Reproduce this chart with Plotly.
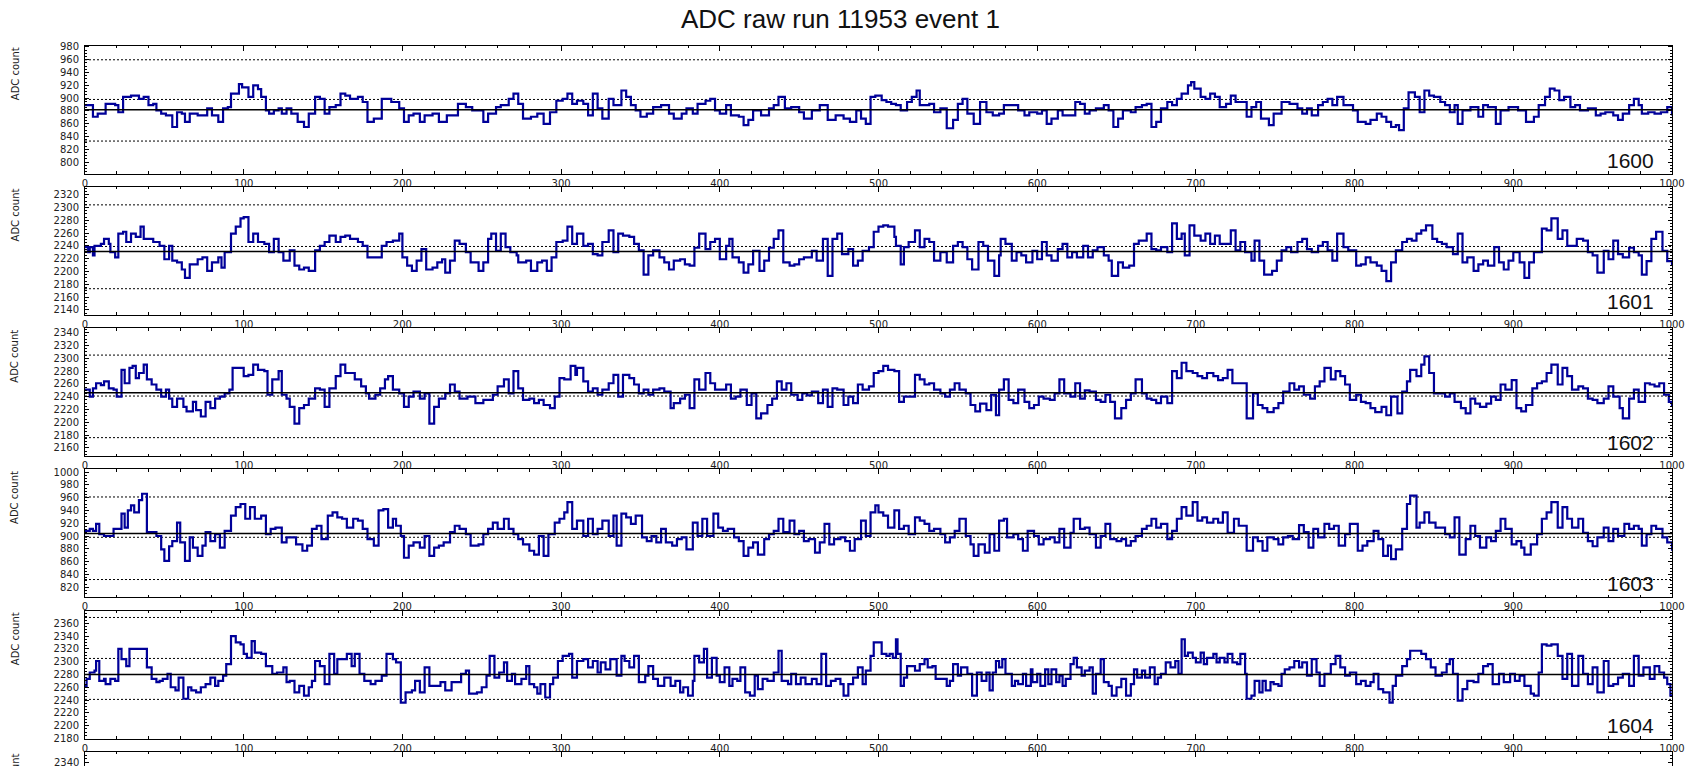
import plotly.graph_objects as go

# ---------------- data (sample index, ADC value) ----------------
channels = ["1600", "1601", "1602", "1603", "1604"]
title_text = "ADC raw run 11953 event 1"
y_title = "ADC count"

ch1600 = [(0,889),(5,871),(8,876),(13,891),(19,889),(21,878),(24,902),(29,904),(34,899),(37,902),(40,889),(43,891),(45,881),(48,876),(51,873),(55,855),(58,878),(61,876),(63,863),(66,876),(71,873),(77,884),(80,873),(84,863),(87,884),(90,886),(92,907),(95,907),(97,922),(99,917),(103,902),(106,920),(109,914),(111,902),(114,881),(116,876),(119,881),(122,884),(124,876),(127,884),(130,876),(134,863),(138,855),(141,876),(145,902),(148,899),(151,876),(154,886),(158,889),(161,907),(164,904),(167,899),(172,902),(175,894),(178,863),(182,868),(187,899),(193,894),(198,884),(201,863),(204,873),(207,876),(211,863),(214,873),(219,876),(223,863),(228,873),(235,891),(240,886),(244,881),(251,863),(254,876),(259,886),(262,889),(267,899),(270,907),(273,891),(276,868),(281,871),(285,876),(289,860),(293,878),(297,896),(301,899),(304,907),(307,891),(310,896),(314,891),(317,873),(320,907),(323,884),(326,868),(330,899),(333,889),(338,912),(341,902),(344,889),(347,881),(350,871),(354,876),(358,886),(363,889),(368,876),(371,868),(376,876),(379,884),(383,876),(386,891),(391,896),(394,899),(397,881),(400,876),(404,889),(407,873),(412,871),(415,858),(418,866),(421,881),(426,873),(431,884),(434,889),(437,902),(441,884),(445,886),(450,878),(453,868),(458,881),(463,889),(468,866),(473,873),(478,868),(482,863),(486,881),(489,868),(492,860),(495,902),(498,904),
          (500,904),(502,897),(505,894),(508,891),(511,889),(514,881),(518,894),(521,902),(524,912),(526,889),(532,891),(535,878),(539,884),(543,853),(547,866),(550,891),(553,899),(556,876),(560,860),(564,894),(568,878),(572,873),(576,876),(579,889),(588,881),(592,873),(595,878),(600,876),(603,881),(606,860),(609,868),(613,881),(616,873),(624,894),(627,891),(630,876),(633,881),(637,884),(642,889),(645,881),(648,855),(651,868),(654,881),(659,878),(662,886),(666,889),(669,891),(672,855),(675,863),(678,884),(682,894),(685,889),(688,899),(691,907),(695,920),(697,925),(699,915),(703,902),(706,899),(709,907),(712,902),(715,886),(719,891),(722,904),(725,894),(732,871),(735,886),(738,894),(741,868),(746,858),(749,876),(754,894),(759,891),(764,884),(767,876),(770,884),(773,873),(777,889),(780,894),(783,899),(786,889),(789,902),(793,889),(799,881),(802,863),(807,860),(810,866),(814,876),(817,871),(820,863),(823,855),(826,858),(828,850),(831,884),(834,909),(838,902),(841,878),(844,912),(847,904),(850,902),(854,894),(857,889),(860,878),(863,889),(865,860),(868,881),(873,886),(878,871),(881,889),(884,886),(889,860),(892,881),(897,886),(903,881),(908,863),(913,871),(916,889),(920,902),(923,915),(926,912),(929,897),(932,902),(936,886),(939,889),(942,881),(947,884),(952,873),(955,876),(958,878),(963,873),(966,866),(969,876),(973,889),(976,899),(979,889),(981,876),(985,878),(989,876),(993,878),(997,886),(1000,873)]

ch1601 = [(0,2238),(2,2230),(3,2238),(5,2225),(6,2240),(10,2243),(12,2251),(15,2243),(16,2230),(19,2222),(21,2259),(24,2262),(26,2246),(29,2259),(32,2254),(35,2270),(37,2251),(43,2246),(47,2240),(50,2219),(53,2240),(55,2217),(58,2214),(61,2203),(63,2190),(66,2211),(71,2219),(74,2222),(77,2201),(80,2214),(84,2222),(86,2206),(88,2230),(92,2259),(95,2270),(98,2283),(100,2285),(103,2246),(106,2259),(109,2246),(113,2243),(116,2230),(119,2251),(122,2230),(125,2217),(129,2233),(132,2209),(135,2203),(138,2206),(141,2201),(145,2233),(148,2240),(151,2246),(154,2256),(158,2246),(161,2254),(164,2256),(167,2251),(172,2246),(175,2240),(178,2222),(187,2240),(190,2246),(194,2248),(198,2259),(200,2222),(203,2209),(206,2201),(209,2217),(212,2235),(215,2203),(219,2206),(222,2214),(225,2219),(227,2198),(230,2217),(233,2248),(236,2243),(240,2230),(243,2214),(248,2201),(251,2214),(254,2251),(256,2259),(259,2232),(262,2259),(265,2238),(268,2230),(272,2225),(273,2214),(278,2217),(281,2201),(285,2214),(288,2217),(291,2201),(294,2222),(297,2246),(301,2248),(304,2270),(307,2243),(310,2259),(314,2240),(317,2243),(320,2227),(323,2225),(326,2246),(330,2264),(333,2230),(336,2259),(339,2256),(343,2254),(346,2243),(349,2233),(352,2195),(355,2225),(358,2233),(362,2222),(365,2214),(368,2203),(371,2217),(375,2219),(378,2211),(381,2209),(384,2237),(387,2259),(391,2235),(394,2246),(397,2251),(400,2219),(404,2240),(406,2251),(408,2222),(412,2214),(415,2198),(418,2211),(421,2232),(425,2201),(428,2217),(431,2237),(434,2251),(437,2264),(440,2214),(444,2209),(447,2211),(450,2219),(453,2222),(458,2232),(461,2217),(465,2251),(468,2193),(471,2251),(474,2259),(477,2227),(481,2235),(484,2209),(487,2217),(490,2232),(494,2238),(497,2262),
          (500,2270),(503,2272),(506,2270),(510,2254),(511,2240),(514,2211),(516,2238),(519,2246),(523,2264),(526,2238),(529,2251),(532,2246),(535,2217),(539,2230),(543,2214),(547,2240),(550,2246),(553,2238),(556,2219),(559,2203),(563,2246),(566,2240),(569,2217),(573,2193),(576,2225),(577,2251),(580,2243),(584,2217),(587,2230),(590,2225),(593,2214),(597,2232),(600,2219),(603,2246),(606,2225),(609,2217),(613,2235),(616,2243),(619,2222),(622,2230),(625,2222),(629,2240),(632,2222),(635,2233),(638,2238),(642,2225),(645,2217),(647,2193),(651,2214),(654,2206),(658,2209),(661,2243),(664,2248),(669,2259),(672,2235),(675,2233),(678,2238),(682,2230),(685,2275),(688,2251),(691,2259),(693,2225),(696,2272),(699,2256),(703,2248),(706,2259),(709,2243),(712,2256),(715,2243),(722,2264),(725,2233),(728,2246),(731,2230),(735,2217),(737,2248),(740,2217),(743,2195),(748,2201),(751,2217),(754,2233),(757,2238),(760,2230),(764,2246),(767,2251),(770,2235),(773,2230),(777,2240),(780,2246),(783,2233),(786,2217),(789,2259),(793,2238),(796,2233),(801,2209),(804,2211),(807,2222),(810,2214),(814,2209),(817,2201),(820,2185),(823,2214),(826,2233),(830,2246),(833,2251),(836,2248),(839,2259),(842,2264),(845,2272),(849,2251),(852,2246),(855,2243),(858,2238),(862,2227),(865,2259),(868,2214),(871,2222),(875,2201),(878,2211),(881,2217),(884,2209),(888,2238),(891,2214),(894,2203),(897,2217),(900,2230),(904,2214),(907,2190),(910,2214),(913,2230),(918,2267),(921,2264),(924,2283),(928,2251),(931,2264),(934,2240),(940,2251),(944,2248),(947,2230),(950,2225),(953,2198),(957,2232),(960,2219),(963,2248),(966,2227),(969,2222),(973,2237),(976,2230),(979,2225),(981,2195),(984,2216),(987,2251),(990,2262),(994,2232),(997,2216),(1000,2209)]

ch1602 = [(0,2251),(3,2240),(5,2253),(7,2261),(10,2258),(12,2264),(15,2253),(18,2251),(20,2240),(23,2282),(25,2261),(28,2285),(30,2288),(32,2269),(34,2277),(37,2290),(39,2267),(42,2259),(45,2251),(48,2240),(51,2251),(53,2237),(55,2224),(58,2237),(62,2224),(64,2217),(68,2232),(70,2219),(73,2209),(76,2232),(79,2222),(82,2237),(85,2240),(88,2245),(91,2251),(93,2285),(97,2285),(100,2272),(103,2274),(106,2290),(109,2282),(113,2280),(115,2243),(118,2267),(122,2280),(124,2243),(127,2237),(129,2224),(132,2198),(135,2222),(138,2227),(141,2237),(145,2253),(148,2251),(151,2224),(154,2253),(158,2272),(161,2290),(164,2277),(170,2267),(174,2256),(177,2245),(179,2237),(183,2243),(186,2253),(189,2267),(191,2272),(194,2251),(198,2245),(201,2224),(204,2240),(207,2248),(211,2237),(214,2245),(217,2198),(220,2224),(223,2237),(227,2245),(230,2259),(233,2248),(236,2237),(241,2240),(246,2230),(251,2235),(257,2243),(260,2256),(264,2267),(267,2245),(270,2280),(273,2253),(276,2235),(280,2237),(283,2230),(286,2235),(289,2227),(293,2222),(296,2240),(299,2269),(302,2267),(306,2288),(309,2274),(310,2285),(314,2264),(317,2248),(320,2253),(323,2243),(326,2251),(330,2261),(333,2274),(336,2240),(339,2274),(343,2269),(346,2259),(349,2245),(352,2251),(355,2243),(358,2251),(362,2253),(365,2248),(369,2222),(371,2230),(375,2237),(378,2243),(381,2222),(384,2267),(387,2251),(391,2277),(394,2261),(397,2251),(404,2259),(407,2237),(410,2240),(413,2251),(417,2227),(420,2245),(423,2206),(426,2214),(430,2227),(433,2237),(436,2264),(439,2251),(442,2261),(445,2243),(449,2235),(452,2245),(455,2242),(458,2248),(462,2230),(465,2251),(468,2224),(471,2253),(474,2251),(478,2227),(481,2240),(484,2230),(487,2259),(490,2251),(494,2256),(497,2277),
          (500,2280),(503,2288),(506,2282),(510,2280),(513,2232),(516,2240),(523,2274),(526,2267),(529,2259),(532,2261),(535,2251),(539,2245),(542,2240),(545,2251),(548,2261),(551,2251),(555,2245),(558,2227),(561,2217),(564,2229),(568,2219),(571,2243),(574,2211),(576,2251),(579,2267),(582,2235),(585,2230),(588,2251),(592,2232),(595,2222),(598,2227),(601,2240),(604,2237),(608,2235),(611,2245),(614,2267),(617,2245),(621,2240),(624,2261),(627,2237),(630,2250),(633,2248),(637,2235),(640,2232),(643,2243),(646,2232),(649,2206),(653,2222),(656,2235),(659,2245),(662,2267),(666,2245),(669,2237),(672,2235),(675,2230),(678,2240),(682,2230),(685,2280),(688,2269),(691,2293),(694,2280),(698,2277),(701,2272),(704,2269),(707,2277),(711,2272),(714,2266),(717,2269),(720,2282),(723,2261),(732,2206),(736,2245),(739,2227),(742,2222),(745,2216),(749,2222),(752,2230),(755,2248),(759,2261),(762,2251),(765,2256),(768,2243),(772,2237),(775,2256),(778,2264),(781,2285),(785,2267),(788,2280),(791,2272),(794,2259),(797,2235),(801,2243),(804,2232),(807,2230),(810,2222),(813,2216),(817,2224),(820,2211),(823,2240),(827,2214),(830,2248),(833,2264),(835,2282),(839,2272),(842,2290),(844,2303),(847,2277),(850,2245),(857,2240),(860,2245),(863,2232),(867,2222),(870,2214),(873,2237),(876,2229),(879,2224),(883,2229),(886,2240),(889,2235),(892,2259),(895,2251),(899,2266),(902,2222),(905,2217),(908,2227),(912,2253),(915,2261),(918,2264),(921,2277),(924,2290),(928,2259),(931,2285),(934,2272),(937,2251),(941,2256),(944,2253),(947,2237),(950,2235),(953,2230),(957,2237),(960,2256),(963,2240),(967,2222),(969,2206),(973,2237),(976,2251),(979,2232),(983,2261),(986,2259),(989,2256),(992,2261),(995,2243),(998,2232),(1000,2224)]

ch1603 = [(0,908),(3,911),(5,908),(7,919),(9,903),(12,900),(18,911),(23,935),(25,913),(27,940),(29,948),(31,937),(34,956),(36,966),(39,906),(45,900),(48,879),(50,861),(53,884),(55,892),(58,921),(60,890),(63,861),(66,898),(68,882),(71,869),(74,885),(76,906),(79,892),(82,903),(85,882),(88,908),(92,932),(95,945),(98,950),(101,927),(104,945),(107,927),(111,932),(114,903),(117,911),(120,913),(124,890),(127,898),(133,887),(137,877),(140,885),(143,911),(146,916),(149,895),(153,932),(156,937),(159,929),(162,927),(165,913),(169,927),(172,924),(175,911),(178,895),(182,885),(185,940),(188,942),(191,913),(194,927),(196,916),(199,900),(201,866),(204,885),(207,890),(211,882),(214,900),(217,869),(220,882),(223,885),(226,890),(230,906),(233,916),(236,911),(240,903),(243,885),(248,887),(251,903),(254,911),(257,921),(260,911),(264,927),(267,911),(270,903),(273,895),(276,887),(280,877),(283,871),(286,900),(289,869),(292,903),(296,921),(299,927),(302,937),(304,953),(307,911),(310,924),(314,900),(317,927),(320,903),(323,911),(326,924),(330,900),(333,932),(335,885),(338,935),(341,929),(344,919),(347,932),(351,898),(354,892),(357,900),(360,890),(363,911),(366,890),(370,885),(373,895),(376,898),(379,879),(383,921),(386,900),(389,927),(392,900),(396,935),(399,913),(402,908),(405,911),(409,898),(412,892),(415,869),(418,882),(421,890),(424,871),(428,895),(431,903),(434,908),(437,927),(440,906),(444,924),(447,903),(450,908),(453,892),(456,895),(460,874),(463,890),(466,919),(469,887),(472,895),(476,898),(479,892),(482,877),(485,895),(489,924),(492,900),(495,937),(498,948),
          (500,937),(503,932),(506,913),(510,940),(513,911),(516,916),(519,903),(523,929),(526,924),(529,919),(532,908),(535,911),(539,903),(542,890),(545,898),(548,908),(551,927),(555,900),(558,887),(560,869),(563,887),(567,874),(570,903),(573,877),(576,924),(579,927),(581,898),(585,903),(588,895),(591,877),(594,908),(598,900),(601,887),(604,895),(608,898),(611,890),(614,911),(617,882),(621,905),(623,927),(627,911),(630,913),(633,903),(637,882),(640,900),(643,919),(646,895),(650,892),(653,895),(656,885),(659,892),(662,900),(666,911),(669,916),(672,927),(675,913),(678,919),(682,895),(685,908),(688,927),(691,945),(694,932),(698,953),(701,924),(704,929),(707,921),(711,927),(714,921),(717,937),(720,905),(724,927),(727,916),(732,877),(736,898),(739,892),(742,877),(745,898),(749,895),(752,887),(755,898),(758,900),(761,895),(765,917),(768,906),(771,882),(774,911),(777,898),(781,919),(784,911),(787,916),(790,885),(794,903),(797,919),(802,877),(805,885),(808,892),(812,908),(815,895),(818,869),(821,885),(823,864),(826,879),(830,911),(833,950),(835,963),(839,913),(841,921),(844,937),(847,921),(851,913),(857,903),(860,898),(863,929),(866,871),(870,895),(873,916),(876,900),(879,882),(883,898),(886,892),(889,908),(892,927),(895,911),(899,887),(902,892),(905,882),(907,871),(911,887),(915,903),(918,927),(921,937),(924,953),(928,913),(931,945),(934,927),(937,913),(941,927),(944,905),(947,892),(950,884),(953,898),(957,913),(960,892),(963,911),(966,900),(970,919),(973,911),(976,916),(979,911),(981,885),(984,903),(987,916),(990,911),(994,898),(997,890),(1000,877)]

ch1604 = [(0,2262),(1,2273),(3,2283),(6,2286),(7,2301),(9,2270),(12,2273),(13,2265),(16,2273),(19,2270),(21,2320),(23,2304),(26,2293),(28,2320),(39,2291),(42,2273),(45,2268),(47,2270),(49,2273),(52,2281),(54,2260),(57,2255),(59,2275),(62,2242),(65,2260),(67,2255),(70,2252),(73,2260),(76,2265),(79,2275),(82,2262),(84,2270),(87,2278),(89,2296),(92,2340),(95,2330),(98,2327),(100,2312),(102,2306),(105,2332),(107,2314),(111,2312),(114,2293),(118,2281),(121,2283),(125,2291),(127,2268),(129,2270),(132,2252),(135,2262),(138,2247),(141,2260),(143,2270),(145,2301),(148,2293),(151,2265),(154,2312),(157,2281),(159,2304),(165,2312),(168,2293),(170,2312),(173,2281),(176,2270),(180,2265),(183,2270),(187,2278),(190,2312),(194,2304),(196,2299),(199,2236),(202,2252),(206,2255),(208,2270),(211,2252),(214,2291),(217,2262),(224,2268),(227,2255),(231,2268),(237,2281),(240,2286),(242,2250),(247,2252),(250,2260),(253,2278),(255,2309),(258,2275),(261,2283),(264,2299),(266,2270),(269,2281),(271,2265),(275,2273),(278,2293),(280,2265),(283,2260),(285,2250),(287,2265),(290,2244),(293,2265),(295,2275),(298,2301),(301,2309),(305,2312),(307,2275),(310,2301),(314,2304),(317,2291),(320,2301),(323,2283),(325,2299),(328,2288),(331,2304),(335,2278),(338,2309),(340,2301),(343,2291),(346,2309),(349,2268),(353,2278),(355,2293),(358,2273),(361,2262),(365,2275),(369,2262),(372,2270),(375,2252),(377,2260),(380,2247),(383,2270),(384,2309),(387,2299),(390,2320),(392,2275),(395,2306),(398,2278),(400,2268),(403,2291),(406,2262),(408,2273),(411,2270),(413,2291),(416,2252),(419,2247),(422,2278),(424,2257),(427,2273),(430,2270),(434,2283),(437,2317),(439,2270),(443,2265),(445,2281),(448,2265),(451,2275),(454,2265),(458,2273),(461,2265),(464,2312),(467,2262),(470,2270),(473,2273),(476,2265),(478,2247),(481,2265),(484,2275),(487,2291),(490,2265),(492,2286),(495,2309),(497,2330),
          (500,2330),(502,2312),(505,2309),(507,2312),(509,2306),(511,2335),(512,2312),(514,2262),(516,2275),(518,2293),(523,2286),(526,2296),(529,2304),(531,2291),(534,2293),(536,2273),(543,2262),(545,2270),(547,2296),(550,2278),(552,2291),(556,2281),(559,2247),(562,2283),(565,2270),(568,2283),(570,2255),(572,2283),(574,2301),(576,2291),(578,2304),(580,2281),(584,2262),(586,2270),(588,2265),(591,2281),(593,2262),(596,2288),(597,2268),(600,2281),(602,2262),(605,2288),(607,2265),(609,2288),(612,2268),(614,2278),(616,2262),(618,2273),(621,2296),(623,2306),(625,2291),(628,2278),(630,2286),(633,2291),(635,2250),(637,2281),(640,2304),(642,2268),(645,2262),(647,2247),(650,2260),(653,2273),(656,2247),(659,2265),(661,2288),(663,2275),(666,2286),(668,2275),(671,2291),(674,2265),(676,2275),(678,2281),(681,2299),(684,2291),(687,2301),(689,2281),(691,2335),(693,2309),(695,2314),(698,2306),(700,2299),(703,2314),(705,2296),(707,2306),(711,2312),(713,2299),(715,2306),(718,2299),(720,2312),(723,2299),(726,2296),(728,2312),(731,2281),(732,2242),(735,2247),(737,2270),(740,2252),(742,2270),(744,2255),(747,2268),(749,2265),(752,2262),(754,2281),(756,2288),(759,2291),(762,2301),(765,2291),(767,2299),(770,2278),(773,2304),(776,2283),(778,2262),(781,2281),(785,2296),(788,2309),(791,2291),(794,2278),(797,2283),(801,2265),(804,2270),(807,2262),(810,2268),(812,2281),(815,2257),(818,2252),(822,2236),(824,2262),(826,2278),(830,2293),(833,2304),(835,2317),(842,2312),(845,2304),(848,2291),(851,2278),(855,2283),(858,2296),(860,2304),(862,2281),(865,2239),(868,2257),(871,2270),(875,2268),(878,2281),(881,2293),(884,2296),(887,2265),(891,2281),(894,2268),(898,2281),(901,2270),(904,2278),(907,2262),(911,2250),(913,2247),(916,2283),(918,2327),(921,2325),(924,2327),(928,2309),(931,2273),(934,2312),(937,2262),(941,2309),(944,2281),(947,2265),(950,2291),(953,2252),(957,2301),(960,2262),(963,2265),(966,2275),(969,2281),(973,2262),(976,2309),(979,2278),(982,2291),(986,2273),(989,2293),(992,2283),(995,2275),(997,2265),(999,2247),(1000,2247)]

waveforms = [ch1600, ch1601, ch1602, ch1603, ch1604]

# axis centres (y range = centre +/- 100) and reference lines (ADC counts)
centres = [882, 2232, 2247, 904, 2279.6]
pedestal_lines = [882, 2231, 2246, 904, 2280]
dotted_lines = [[960, 898, 833], [2304, 2239, 2173], [2305, 2241, 2176], [961, 898, 832], [2369, 2305, 2241]]
half_span = 100
stub_top_value = 2356      # sixth (cut-off) panel top value
stub_tick_value = 2340     # the only tick label of the sixth panel that shows
x_ticks = list(range(0, 1001, 100))

# ---------------- layout geometry (page pixels) ----------------
W, H = 1692, 766
X_LEFT, X_RIGHT = 85, 1672
TOP0, PITCH, PH = 45.7, 141.25, 128.0
TRACE_COLOR = "#000099"
TICK_FONT = dict(family="DejaVu Sans", size=10, color="#222222")

def fx(px):
    return px / W

def fy(py):
    return 1 - py / H

fig = go.Figure()
layout = dict(
    width=W, height=H, autosize=False, margin=dict(l=0, r=0, t=0, b=0, pad=0),
    paper_bgcolor="white", plot_bgcolor="white", showlegend=False,
    shapes=[], annotations=[],
)

xdom = [fx(X_LEFT), fx(X_RIGHT)]

def common_x(**kw):
    d = dict(domain=xdom, range=[0, 1000], tickmode="array", tickvals=x_ticks,
             ticks="inside", ticklen=5, tickwidth=1, tickcolor="black",
             minor=dict(dtick=20, tick0=0, ticks="inside", ticklen=2.5, tickcolor="black"),
             showline=True, linecolor="black", linewidth=1, showgrid=False, zeroline=False,
             tickfont=TICK_FONT, fixedrange=True, automargin=False)
    d.update(kw)
    return d

def common_y(rng, **kw):
    d = dict(range=rng, dtick=20, tick0=0, ticks="inside", ticklen=4, tickwidth=1, tickcolor="black",
             minor=dict(dtick=5, tick0=0, ticks="inside", ticklen=2, tickcolor="black"),
             showline=True, linecolor="black", linewidth=1, mirror="allticks",
             showgrid=False, zeroline=False, tickfont=TICK_FONT, fixedrange=True,
             ticklabelstandoff=3, automargin=False, ticklabeloverflow="allow")
    d.update(kw)
    return d

for i in range(6):
    top = TOP0 + i * PITCH
    bot = min(top + PH, H)
    ydom = [max(fy(bot), 0.0), fy(top)]
    n = i + 1
    xa = "xaxis" if n == 1 else f"xaxis{n}"
    ya = "yaxis" if n == 1 else f"yaxis{n}"
    xr = "x" if n == 1 else f"x{n}"
    yr = "y" if n == 1 else f"y{n}"

    if i < 5:
        layout[xa] = common_x(anchor=yr, mirror="allticks")
        layout[ya] = common_y([centres[i] - half_span, centres[i] + half_span], domain=ydom, anchor=xr)
    else:
        vis = (H - top) / PH * 2 * half_span
        layout[xa] = common_x(anchor=yr, side="top", mirror=False, showticklabels=False)
        layout[ya] = common_y([stub_top_value - vis, stub_top_value], domain=ydom, anchor=xr,
                              showticklabels=False)
        # its single visible tick label, positioned through the panel's own y axis
        layout["annotations"].append(dict(
            text=str(stub_tick_value), xref="paper", yref=yr, x=fx(X_LEFT - 4), y=stub_tick_value,
            xanchor="right", yanchor="middle", showarrow=False, font=TICK_FONT))

    # y title, top-aligned like ROOT
    layout["annotations"].append(dict(
        text=y_title, textangle=-90, xref="paper", yref="paper",
        x=fx(15), y=fy(top), xanchor="center", yanchor="top", showarrow=False,
        font=dict(family="DejaVu Sans", size=10, color="#222222")))

    if i < 5:
        pts = waveforms[i]
        fig.add_trace(go.Scatter(
            x=[p[0] for p in pts], y=[p[1] for p in pts], mode="lines",
            line=dict(color=TRACE_COLOR, width=2.2, shape="hv"),
            xaxis=xr, yaxis=yr, hoverinfo="skip"))
        for lv in dotted_lines[i]:
            layout["shapes"].append(dict(type="line", xref=xr, yref=yr, x0=0, x1=1000, y0=lv, y1=lv,
                                         line=dict(color="black", width=1, dash="2px,2px"), layer="below"))
        layout["shapes"].append(dict(type="line", xref=xr, yref=yr, x0=0, x1=1000,
                                     y0=pedestal_lines[i], y1=pedestal_lines[i],
                                     line=dict(color="black", width=1.5), layer="above"))
        layout["annotations"].append(dict(
            text=channels[i], xref="paper", yref="paper",
            x=fx(1656), y=fy(bot - 13.5), xanchor="right", yanchor="middle",
            showarrow=False, font=dict(family="Liberation Sans", size=21, color="#111111")))

layout["annotations"].append(dict(
    text=title_text, xref="paper", yref="paper", x=fx(840), y=fy(19.5),
    xanchor="center", yanchor="middle", showarrow=False,
    font=dict(family="Liberation Sans", size=26, color="#111111")))

fig.update_layout(**layout)

# remove the default page margin so the figure sits at the window origin without scrollbars
page_fix = ("document.body.style.margin='0';"
            "document.documentElement.style.overflow='hidden';"
            "document.body.style.overflow='hidden';")
fig.write_html("out.html", post_script=page_fix,
               config={"responsive": False, "displayModeBar": False, "staticPlot": True})
